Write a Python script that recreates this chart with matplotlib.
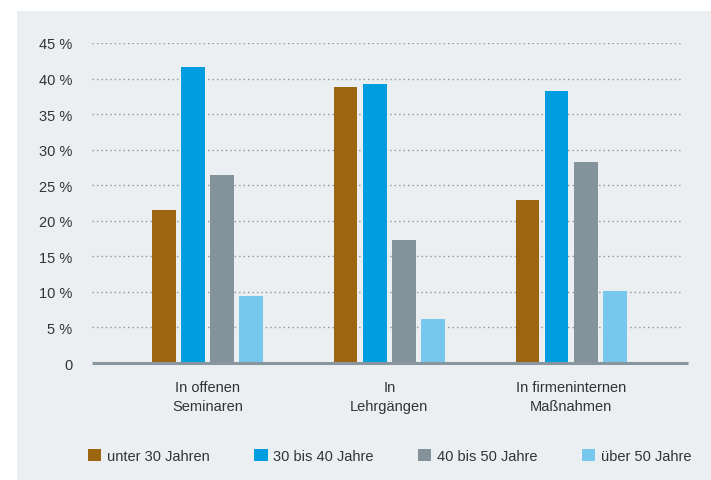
import matplotlib.pyplot as plt
import numpy as np
from matplotlib.patches import Rectangle, Patch

plt.rcParams["font.family"] = ["Liberation Sans", "DejaVu Sans"]

CATEGORIES = ["In offenen\nSeminaren", "In\nLehrgängen", "In firmeninternen\nMaßnahmen"]
SERIES = ["unter 30 Jahren", "30 bis 40 Jahre", "40 bis 50 Jahre", "über 50 Jahre"]
VALUES = [
    [21.5, 38.8, 22.9],
    [41.6, 39.3, 38.3],
    [26.5, 17.3, 28.2],
    [9.4, 6.2, 10.1],
]
COLORS = ["#9e6511", "#009ede", "#84939b", "#77c8ec"]
YTICKS = [0, 5, 10, 15, 20, 25, 30, 35, 40, 45]
YTICK_LABELS = ["0"] + [f"{v} %" for v in YTICKS[1:]]

BG = "#ebeff2"
TEXT = "#333333"
FS = 10.5
BAR_W = 0.13
STEP = 0.16

fig = plt.figure(figsize=(7.11, 4.81), dpi=100, facecolor="white")
fig.patches.append(Rectangle((17 / 711, 0), 1 - 17 / 711, 1 - 12 / 481,
                             transform=fig.transFigure, facecolor=BG,
                             edgecolor="none", zorder=-10))

ax = fig.add_axes([92 / 711, 1 - 364 / 481, (683 - 92) / 711, (364 - 44) / 481])
ax.set_facecolor("none")

x = np.arange(len(CATEGORIES))
for i, (vals, col) in enumerate(zip(VALUES, COLORS)):
    ax.bar(x + (i - 1.5) * STEP, vals, width=BAR_W, color=col, zorder=3,
           label=SERIES[i])

ax.set_xlim(-0.635, 2.615)
ax.set_ylim(0, 45)
ax.set_yticks(YTICKS)
ax.set_yticklabels(YTICK_LABELS)
ax.set_xticks(x)
ax.set_xticklabels(CATEGORIES, linespacing=1.5)

for v in YTICKS[1:]:
    ax.axhline(v, color="#8a959c", linestyle=(0, (1, 2.2)), linewidth=1.0, zorder=1)
ax.plot([-0.635, 2.645], [0, 0], color="#8896a0", linewidth=2.2, zorder=4,
        clip_on=False, solid_capstyle="butt")

for s in ax.spines.values():
    s.set_visible(False)
ax.tick_params(axis="both", length=0, labelsize=FS, labelcolor=TEXT)
ax.tick_params(axis="y", pad=14)
ax.tick_params(axis="x", pad=12)

handles = [Patch(facecolor=c, edgecolor="none") for c in COLORS]
fig.legend(handles, SERIES, loc="center", ncol=4, frameon=False,
           bbox_to_anchor=(390 / 711, 1 - 457 / 481), fontsize=FS,
           handlelength=0.9, handleheight=0.9, handletextpad=0.4,
           columnspacing=3.05, labelcolor=TEXT)

fig.savefig("out.png", dpi=100, facecolor="white")
